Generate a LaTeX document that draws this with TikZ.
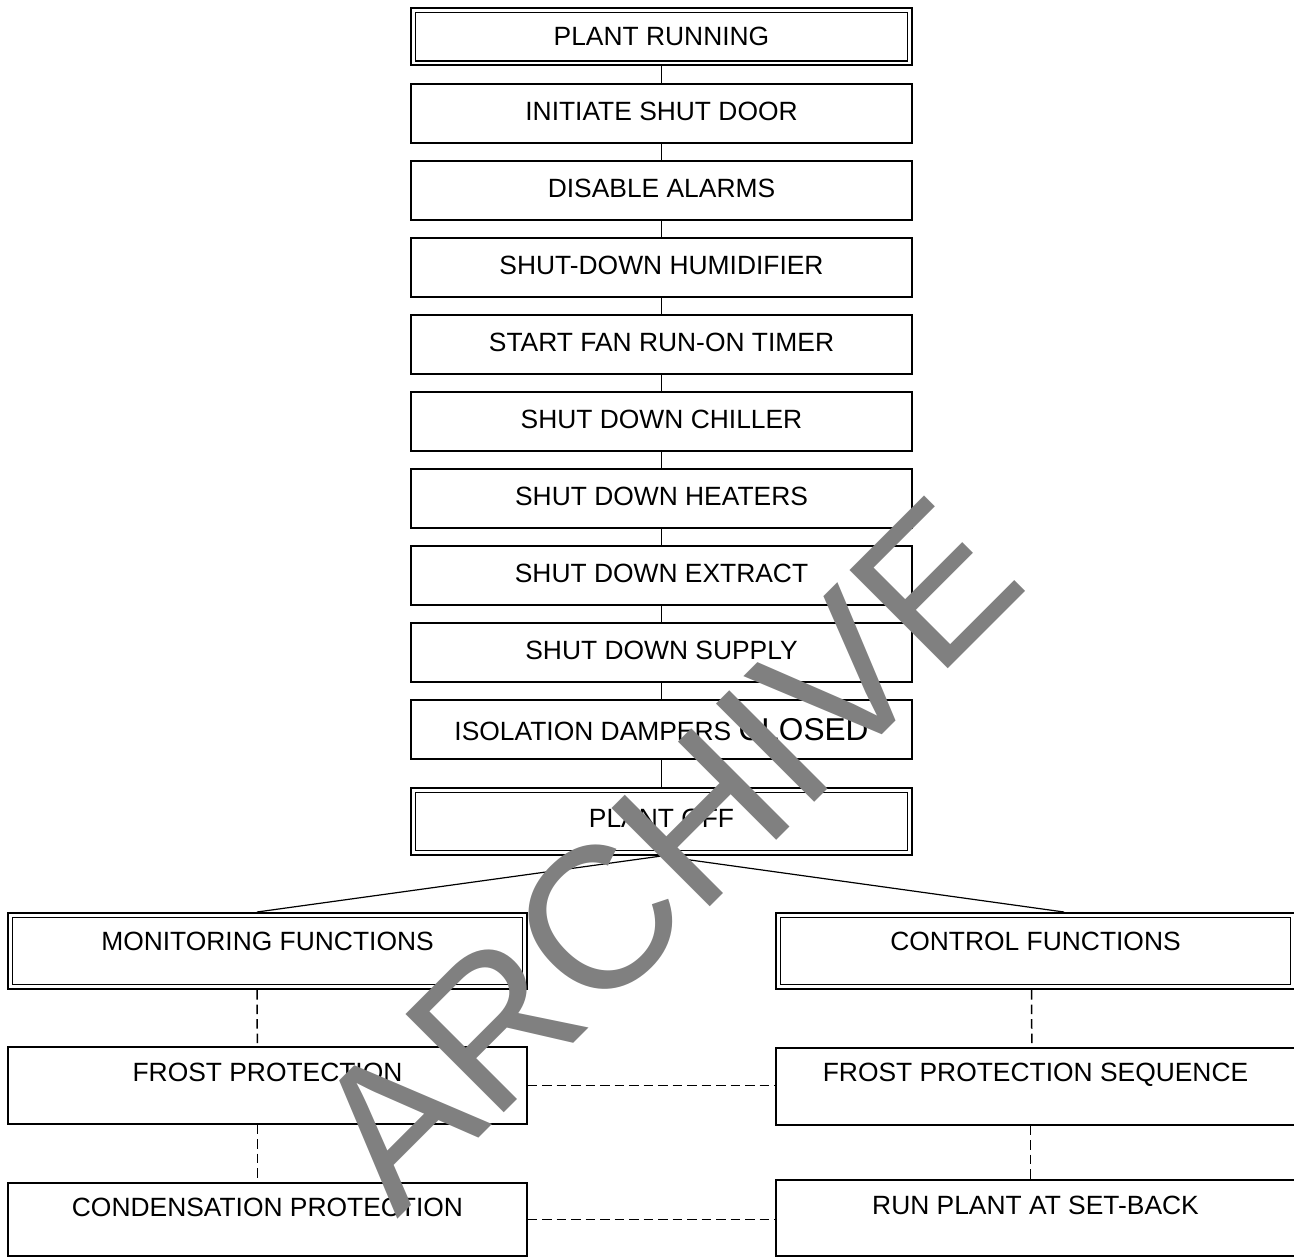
\documentclass[tikz,border=0pt]{standalone}
\usepackage{fontspec}
\setmainfont{Liberation Sans}
\usetikzlibrary{calc}
\newcommand\boxfont{\fontsize{13.2}{15}\selectfont}
\definecolor{wmgray}{RGB}{128,128,128}
\begin{document}
\begin{tikzpicture}[x=0.5pt,y=-0.5pt,
  cbox/.style={draw, line width=0.65pt, inner sep=0pt, minimum width=250.5pt, minimum height=29.5pt, font=\boxfont, text height=9.45pt, text depth=2.5pt},
  dbl/.style={draw, line width=1pt, inner sep=0pt, font=\boxfont, text height=9.45pt, text depth=0pt,
    path picture={\draw[line width=0.65pt] ([shift={(2.3pt,2.3pt)}]path picture bounding box.south west) rectangle ([shift={(-2.3pt,-2.3pt)}]path picture bounding box.north east);}},
  sbox/.style={draw, line width=0.65pt, inner sep=0pt, minimum width=259.5pt},
  lbl/.style={font=\boxfont, inner sep=0pt, text height=9.45pt, text depth=0pt},
  conn/.style={line width=0.6pt},
  dconn/.style={line width=0.75pt, dash pattern=on 4.75pt off 2.5pt},
  wm/.style={font=\fontsize{101}{120}\selectfont, text=wmgray, inner sep=0pt}]
\useasboundingbox (0,0) rectangle (1294,1257);

% central column
\node[dbl, minimum width=250.5pt, minimum height=28.75pt, text depth=0.5pt] (run0) at (661.5,36.75) {PLANT RUNNING};
\node[cbox] (s1) at (661.5,113.5) {INITIATE SHUT DOOR};
\node[cbox] (s2) at (661.5,190.5) {DISABLE ALARMS};
\node[cbox] (s3) at (661.5,267.5) {SHUT-DOWN HUMIDIFIER};
\node[cbox] (s4) at (661.5,344.5) {START FAN RUN-ON TIMER};
\node[cbox] (s5) at (661.5,421.5) {SHUT DOWN CHILLER};
\node[cbox] (s6) at (661.5,498.5) {SHUT DOWN HEATERS};
\node[cbox] (s7) at (661.5,575.5) {SHUT DOWN EXTRACT};
\node[cbox] (s8) at (661.5,652.5) {SHUT DOWN SUPPLY};
\node[cbox, text height=11.3pt, text depth=0pt] (s9) at (661.5,729.5) {ISOLATION DAMPERS {\fontsize{15.8}{18}\selectfont CLOSED}};
\node[dbl, minimum width=250.5pt, minimum height=33.5pt, text depth=3pt] (off) at (661.5,821.5) {PLANT OFF};

% lower boxes
\node[dbl, minimum width=259.5pt, minimum height=38pt] (mon) at (267.5,951) {};
\node[dbl, minimum width=259.5pt, minimum height=38pt] (ctl) at (1035.5,951) {};
\node[sbox, minimum height=38.5pt] (frost) at (267.5,1085.5) {};
\node[sbox, minimum height=36.5pt] (cond) at (267.5,1219.5) {};
\node[sbox, minimum height=38.5pt] (fseq) at (1035.5,1086.5) {};
\node[sbox, minimum height=38pt] (runb) at (1035.5,1218) {};

\node[lbl] (monT) at ($(mon.north)+(0,28.7)$) {MONITORING FUNCTIONS};
\node[lbl] (ctlT) at ($(ctl.north)+(0,29)$) {CONTROL FUNCTIONS};
\node[lbl] (frostT) at ($(frost.north)+(0,26)$) {FROST PROTECTION};
\node[lbl] (condT) at ($(cond.north)+(0,25)$) {CONDENSATION PROTECTION};
\node[lbl] (fseqT) at ($(fseq.north)+(0,25)$) {FROST PROTECTION SEQUENCE};
\node[lbl] (runT) at ($(runb.north)+(0,26)$) {RUN PLANT AT SET-BACK};

% solid connectors
\draw[conn] (run0) -- (s1);
\draw[conn] (s1) -- (s2);
\draw[conn] (s2) -- (s3);
\draw[conn] (s3) -- (s4);
\draw[conn] (s4) -- (s5);
\draw[conn] (s5) -- (s6);
\draw[conn] (s6) -- (s7);
\draw[conn] (s7) -- (s8);
\draw[conn] (s8) -- (s9);
\draw[conn] (s9) -- (off);
\draw[conn] (off.south) -- ($(mon.north west)+(250,0)$);
\draw[conn] (off.south) -- ($(ctl.north west)+(289,0)$);

% dashed connectors
\draw[dconn] ($(mon.south west)+(250,0)$) -- ($(frost.north west)+(250,0)$);
\draw[dconn] ($(frost.south west)+(250,0)$) -- ($(cond.north west)+(250,0)$);
\draw[dconn] ($(ctl.south west)+(256.5,0)$) -- ($(fseq.north west)+(256.5,0)$);
\draw[dconn] ($(fseq.south west)+(255,0)$) -- ($(runb.north west)+(255,0)$);
\draw[dconn] (frost.east) -- (frost.east -| fseq.west);
\draw[dconn] (cond.east) -- (cond.east -| runb.west);

% watermark
\node[wm, anchor=base west, rotate=45] (wmk) at (397,1220) {ARCHIVE};
\end{tikzpicture}
\end{document}
